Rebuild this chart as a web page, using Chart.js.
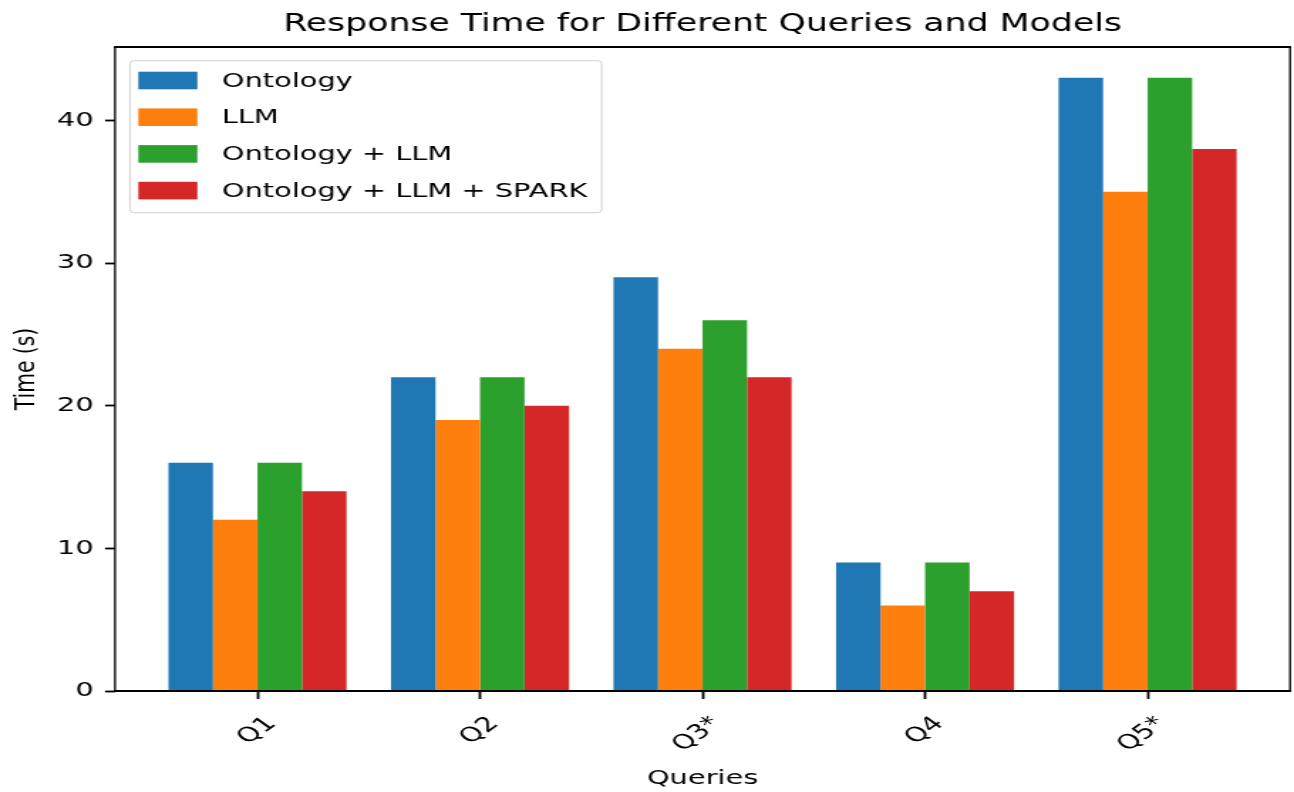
<!DOCTYPE html>
<html>
<head>
<meta charset="utf-8">
<script src="https://cdn.jsdelivr.net/npm/chart.js@4/dist/chart.umd.min.js"></script>
<style>
  html, body { margin: 0; padding: 0; background: #ffffff; overflow: hidden; }
  #c { display: block; width: 1294px; height: 792px; }
</style>
</head>
<body>
<canvas id="c" width="910" height="792" style="width:1294px;height:792px"></canvas>
<script>
// ---- data ----
const categories = ['Q1', 'Q2', 'Q3*', 'Q4', 'Q5*'];
const seriesNames = ['Ontology', 'LLM', 'Ontology + LLM', 'Ontology + LLM + SPARK'];
const ontology = [16, 22, 29, 9, 43];
const llm = [12, 19, 24, 6, 35];
const ontologyLlm = [16, 22, 26, 9, 43];
const ontologyLlmSpark = [14, 20, 22, 7, 38];
const yTicks = [0, 10, 20, 30, 40];
const colors = ['#1f77b4', '#ff7f0e', '#2ca02c', '#d62728'];

const allSeries = [ontology, llm, ontologyLlm, ontologyLlmSpark];
const FONT = 'DejaVu Sans';
const yMax = Math.max(...allSeries.flat()) * 1.05;

const datasets = allSeries.map((vals, k) => ({
  label: seriesNames[k],
  data: vals.map((v, i) => ({ x: i, y: v })),
  backgroundColor: colors[k],
  borderWidth: 0,
  categoryPercentage: 0.8,
  barPercentage: 1.0
}));

const framePlugin = {
  id: 'frame',
  afterDraw(chart) {
    const { ctx, chartArea: a } = chart;
    ctx.save();
    ctx.strokeStyle = '#000';
    // horizontal spines
    ctx.lineWidth = 1.8;
    ctx.beginPath();
    ctx.moveTo(a.left - 0.7, a.top); ctx.lineTo(a.right + 0.7, a.top);
    ctx.moveTo(a.left - 0.7, a.bottom); ctx.lineTo(a.right + 0.7, a.bottom);
    ctx.stroke();
    // vertical spines (canvas is stretched horizontally)
    ctx.lineWidth = 1.3;
    ctx.beginPath();
    ctx.moveTo(a.left, a.top); ctx.lineTo(a.left, a.bottom);
    ctx.moveTo(a.right, a.top); ctx.lineTo(a.right, a.bottom);
    ctx.stroke();

    // legend box (upper left inside axes)
    const bx = 91.4, by = 60.7, bw = 331.7, bh = 152;
    const r = 3;
    ctx.beginPath();
    ctx.moveTo(bx + r, by);
    ctx.lineTo(bx + bw - r, by);
    ctx.quadraticCurveTo(bx + bw, by, bx + bw, by + r);
    ctx.lineTo(bx + bw, by + bh - r);
    ctx.quadraticCurveTo(bx + bw, by + bh, bx + bw - r, by + bh);
    ctx.lineTo(bx + r, by + bh);
    ctx.quadraticCurveTo(bx, by + bh, bx, by + bh - r);
    ctx.lineTo(bx, by + r);
    ctx.quadraticCurveTo(bx, by, bx + r, by);
    ctx.closePath();
    ctx.fillStyle = 'rgba(255,255,255,0.8)';
    ctx.fill();
    ctx.lineWidth = 1;
    ctx.strokeStyle = '#d0d0d0';
    ctx.stroke();

    ctx.font = '20.3px "' + FONT + '"';
    ctx.textBaseline = 'middle';
    ctx.textAlign = 'left';
    chart.data.datasets.forEach((ds, k) => {
      const cy = 80.5 + k * 36.7;
      ctx.fillStyle = ds.backgroundColor;
      ctx.fillRect(97.3, cy - 8.8, 41.5, 17.6);
      ctx.fillStyle = '#000';
      ctx.fillText(ds.label, 156, cy + 1);
    });
    ctx.restore();
  }
};

new Chart(document.getElementById('c'), {
  type: 'bar',
  data: { datasets },
  options: {
    responsive: false,
    devicePixelRatio: 1,
    animation: false,
    layout: { padding: { left: 0, right: 2.8, top: 0, bottom: 0 } },
    plugins: {
      legend: { display: false },
      tooltip: { enabled: false },
      title: {
        display: true,
        text: 'Response Time for Different Queries and Models',
        fullSize: false,
        color: '#000',
        font: { family: FONT, size: 24.4, weight: 'normal', lineHeight: 1.2 },
        padding: { top: 10, bottom: 7.7 }
      }
    },
    scales: {
      x: {
        type: 'linear',
        min: -0.64,
        max: 4.64,
        offset: false,
        afterBuildTicks(scale) {
          scale.ticks = categories.map((c, i) => ({ value: i }));
        },
        afterFit(scale) { scale.height = 101; },
        ticks: {
          includeBounds: false,
          autoSkip: false,
          minRotation: 45,
          maxRotation: 45,
          padding: 13,
          labelOffset: 10,
          color: '#000',
          font: { family: FONT, size: 20.3 },
          callback: (v) => categories[Math.round(v)]
        },
        grid: {
          display: true,
          offset: false,
          drawOnChartArea: false,
          drawTicks: true,
          tickLength: 8,
          tickWidth: 1.8,
          tickColor: '#000'
        },
        border: { display: false },
        title: {
          display: true,
          text: 'Queries',
          color: '#000',
          font: { family: FONT, size: 20.3, lineHeight: 1.2 },
          padding: { top: 0, bottom: 1.5 }
        }
      },
      y: {
        min: 0,
        max: yMax,
        afterBuildTicks(scale) {
          scale.ticks = yTicks.map(v => ({ value: v }));
        },
        afterFit(scale) { scale.width = 80.9; },
        ticks: {
          includeBounds: false,
          padding: 8,
          color: '#000',
          font: { family: FONT, size: 20.3 }
        },
        grid: {
          display: true,
          drawOnChartArea: false,
          drawTicks: true,
          tickLength: 7,
          tickWidth: 1.8,
          tickColor: '#000'
        },
        border: { display: false },
        title: {
          display: true,
          text: 'Time (s)',
          color: '#000',
          font: { family: FONT, size: 20.3, lineHeight: 1.2 },
          padding: { top: 7, bottom: 0 }
        }
      }
    }
  },
  plugins: [framePlugin]
});
</script>
</body>
</html>
